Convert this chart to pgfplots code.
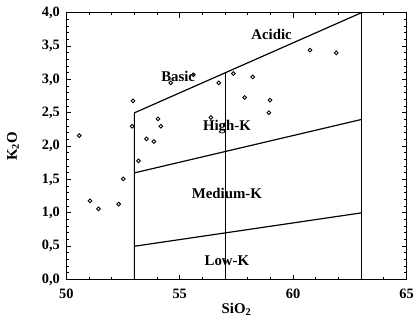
\documentclass[border=0pt]{standalone}
\usepackage{fontspec}
\setmainfont{Liberation Serif}
\usepackage{pgfplots}
\pgfplotsset{compat=1.18}
\begin{document}
\begin{tikzpicture}
\begin{axis}[
 scale only axis, width=343bp, height=269bp,
 xmin=50, xmax=65, ymin=0, ymax=4,
 xtick={50,55,60,65}, xticklabels={50,55,60,65},
 ytick={0,0.5,1,1.5,2,2.5,3,3.5,4},
 yticklabels={{0,0},{0,5},{1,0},{1,5},{2,0},{2,5},{3,0},{3,5},{4,0}},
 minor x tick num=4, minor y tick num=4,
 tick align=inside, major tick length=5pt, minor tick length=2.5pt,
 axis line style={line width=1.4pt},
 every tick/.style={black, line width=0.9pt},
 ticklabel style={font=\fontsize{14.5}{16}\selectfont\bfseries},
 yticklabel style={xshift=-3bp},
 xticklabel style={yshift=-6bp},
 xlabel={SiO\textsubscript{2}}, ylabel={K\textsubscript{2}O},
 label style={font=\fontsize{15}{17}\selectfont\bfseries},
 xlabel style={at={(axis description cs:0.5,-0.112)}, anchor=center},
 ylabel style={at={(axis description cs:-0.157,0.5)}, anchor=center},
 clip=false,
]
\addplot[black, line width=1.2pt, forget plot] coordinates {(53,0) (53,2.5) (63,4)};
\addplot[black, line width=1.2pt, forget plot] coordinates {(57,0) (57,3.1)};
\addplot[black, line width=1.2pt, forget plot] coordinates {(63,0) (63,4)};
\addplot[black, line width=1.2pt, forget plot] coordinates {(53,0.5) (63,1)};
\addplot[black, line width=1.2pt, forget plot] coordinates {(53,1.6) (63,2.4)};
\addplot[only marks, mark=o, mark size=1.9pt, black, mark options={line width=0.9pt}] coordinates {
(50.57,2.16) (51.04,1.18) (51.42,1.06) (52.31,1.13) (52.51,1.51)
(52.94,2.68) (52.90,2.30) (53.18,1.78) (53.53,2.11) (53.86,2.07)
(54.04,2.41) (54.17,2.30) (54.60,2.95) (55.60,3.07) (56.37,2.43)
(56.72,2.95) (57.36,3.09) (58.22,3.04) (57.86,2.73) (58.98,2.69)
(58.93,2.50) (60.74,3.44) (61.90,3.40)
};
\node[font=\fontsize{15}{17}\selectfont\bfseries] at (axis cs:59.05,3.67) {Acidic};
\node[font=\fontsize{15}{17}\selectfont\bfseries] at (axis cs:54.93,3.05) {Basic};
\node[font=\fontsize{15}{17}\selectfont\bfseries] at (axis cs:57.08,2.29) {High-K};
\node[font=\fontsize{15}{17}\selectfont\bfseries] at (axis cs:57.08,1.29) {Medium-K};
\node[font=\fontsize{15}{17}\selectfont\bfseries] at (axis cs:57.08,0.28) {Low-K};
\path (axis description cs:-0.195,-0.160) coordinate (ll);
\path (axis description cs:1.020,1.048) coordinate (ur);
\end{axis}
\end{tikzpicture}
\end{document}
